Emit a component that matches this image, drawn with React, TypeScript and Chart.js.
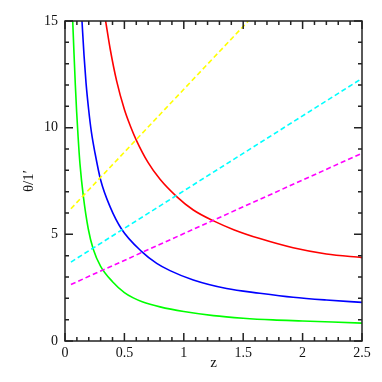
import React, { useEffect, useRef } from "react";
import { Chart, registerables } from "chart.js";

Chart.register(...registerables);

// Solid curves (z, theta in arcmin)
const greenZ = [0.065, 0.076, 0.087, 0.098, 0.11, 0.126, 0.154, 0.196, 0.238, 0.3, 0.4, 0.5, 0.575, 0.65, 0.8, 1.0, 1.25, 1.5, 1.75, 2.0, 2.25, 2.5];
const greenTheta = [15.0, 13.45, 12.0, 10.75, 9.6, 8.3, 6.8, 5.25, 4.3, 3.5, 2.78, 2.27, 2.02, 1.84, 1.6, 1.38, 1.19, 1.07, 0.99, 0.94, 0.89, 0.84];

const blueZ = [0.143, 0.16, 0.177, 0.199, 0.222, 0.253, 0.3, 0.379, 0.477, 0.646, 0.772, 0.884, 1.08, 1.36, 1.64, 1.92, 2.2, 2.5];
const blueTheta = [15.0, 13.4, 12.1, 10.85, 9.8, 8.8, 7.55, 6.3, 5.24, 4.19, 3.64, 3.3, 2.86, 2.46, 2.24, 2.05, 1.92, 1.81];

const redZ = [0.342, 0.38, 0.435, 0.5, 0.55, 0.6, 0.7, 0.8, 0.94, 1.08, 1.25, 1.42, 1.64, 1.92, 2.2, 2.5];
const redTheta = [15.0, 13.7, 12.18, 10.85, 10.08, 9.42, 8.36, 7.58, 6.77, 6.14, 5.63, 5.22, 4.8, 4.37, 4.08, 3.91];

// Dashed lines
const yellowZ = [0.05, 1.543];
const yellowTheta = [6.2, 15.0];
const cyanZ = [0.05, 2.5];
const cyanTheta = [3.7, 12.31];
const magentaZ = [0.05, 2.5];
const magentaTheta = [2.65, 8.8];

// Axes
const xMin = 0, xMax = 2.5, xStep = 0.5, xMinor = 0.1;
const yMin = 0, yMax = 15, yStep = 5, yMinor = 1;
const xTitle = "z";
const yTitle = "θ/1′";

const pts = (xs: number[], ys: number[]) => xs.map((x, i) => ({ x, y: ys[i] }));

const frameTicks = {
  id: "frameTicks",
  afterDraw(chart: any) {
    const { ctx, chartArea: a, scales } = chart;
    const xs = scales.x, ys = scales.y;
    ctx.save();
    ctx.strokeStyle = "#222";
    ctx.lineWidth = 1.5;
    ctx.strokeRect(a.left, a.top, a.right - a.left, a.bottom - a.top);
    ctx.beginPath();
    const nx = Math.round((xMax - xMin) / xMinor);
    for (let i = 0; i <= nx; i++) {
      const v = xMin + i * xMinor;
      const major = Math.abs(v / xStep - Math.round(v / xStep)) < 1e-6;
      const L = major ? 8 : 4;
      const px = xs.getPixelForValue(v);
      ctx.moveTo(px, a.bottom); ctx.lineTo(px, a.bottom - L);
      ctx.moveTo(px, a.top); ctx.lineTo(px, a.top + L);
    }
    const ny = Math.round((yMax - yMin) / yMinor);
    for (let i = 0; i <= ny; i++) {
      const v = yMin + i * yMinor;
      const major = Math.abs(v / yStep - Math.round(v / yStep)) < 1e-6;
      const L = major ? 8 : 4;
      const py = ys.getPixelForValue(v);
      ctx.moveTo(a.left, py); ctx.lineTo(a.left + L, py);
      ctx.moveTo(a.right, py); ctx.lineTo(a.right - L, py);
    }
    ctx.stroke();
    ctx.restore();
  },
};

const fmt = (v: any) => String(Math.round(Number(v) * 100) / 100);

export default function App() {
  const ref = useRef<HTMLCanvasElement>(null);
  useEffect(() => {
    if (!ref.current) return;
    const lw = 1.6;
    const solid = (label: string, color: string, xs: number[], ys: number[]) => ({
      label, data: pts(xs, ys), borderColor: color, backgroundColor: color,
      borderWidth: lw, pointRadius: 0, cubicInterpolationMode: "monotone" as const, fill: false,
    });
    const dashed = (label: string, color: string, xs: number[], ys: number[]) => ({
      label, data: pts(xs, ys), borderColor: color, backgroundColor: color,
      borderWidth: lw, pointRadius: 0, borderDash: [5, 3], fill: false,
    });
    const chart = new Chart(ref.current, {
      type: "line",
      data: {
        datasets: [
          dashed("yellow", "#ffff00", yellowZ, yellowTheta),
          dashed("cyan", "#00ffff", cyanZ, cyanTheta),
          dashed("magenta", "#ff00ff", magentaZ, magentaTheta),
          solid("green", "#00ff00", greenZ, greenTheta),
          solid("blue", "#0000ff", blueZ, blueTheta),
          solid("red", "#ff0000", redZ, redTheta),
        ],
      },
      options: {
        animation: false,
        responsive: true,
        maintainAspectRatio: false,
        layout: { padding: { left: 0, top: 21, right: 20, bottom: 0 } },
        plugins: { legend: { display: false }, tooltip: { enabled: false } },
        scales: {
          x: {
            type: "linear", min: xMin, max: xMax,
            grid: { display: false, drawTicks: false },
            border: { display: false },
            ticks: { stepSize: xStep, padding: 4, color: "#111", maxRotation: 0, autoSkip: false,
              callback: fmt, font: { family: "Liberation Serif", size: 14 } },
            title: { display: true, text: xTitle, color: "#111", padding: { top: 0, bottom: 10 },
              font: { family: "Liberation Serif", size: 15 } },
            afterFit: (s: any) => { s.height = 41; },
          },
          y: {
            type: "linear", min: yMin, max: yMax,
            grid: { display: false, drawTicks: false },
            border: { display: false },
            ticks: { stepSize: yStep, padding: 7, color: "#111",
              callback: fmt, font: { family: "Liberation Serif", size: 14 } },
            title: { display: true, text: yTitle, color: "#111", padding: { top: 20, bottom: 0 },
              font: { family: "Liberation Serif", size: 15 } },
            afterFit: (s: any) => { s.width = 65; },
          },
        },
      },
      plugins: [frameTicks],
    });
    return () => chart.destroy();
  }, []);
  return (
    <div style={{ position: "fixed", left: 0, top: 0, width: 382, height: 382, background: "#fff" }}>
      <canvas ref={ref} />
    </div>
  );
}
